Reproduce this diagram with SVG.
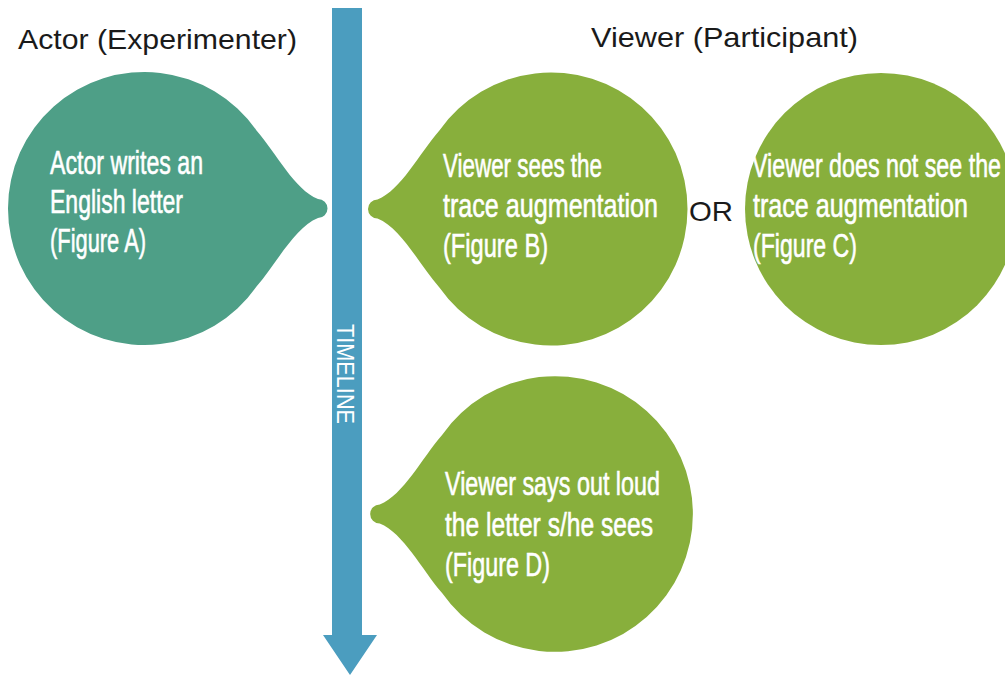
<svg xmlns="http://www.w3.org/2000/svg" xmlns:xlink="http://www.w3.org/1999/xlink" width="1005" height="677" viewBox="0 0 1005 677">
<style>
.hdr{font-family:"Liberation Sans",Arial,sans-serif;font-size:28px;fill:#1a1a1a}
.lbl{font-family:"Liberation Sans",Arial,sans-serif;font-size:33px;fill:#ffffff;stroke:#ffffff;stroke-width:0.6px}
.tl{font-family:"Liberation Sans",Arial,sans-serif;font-size:24px;fill:#ffffff}
.teal{fill:#4E9F87}
.green{fill:#88AF3C}
</style>
<defs>
<path id="bubble" d="M111.8,-78.3 C132,-55 150,-19 173.5,-9.5 A9.5,9.5 0 0 1 173.5,9.5 C150,19 132,55 111.8,78.3 A136.5,136.5 0 1 1 111.8,-78.3 Z"/>
</defs>
<rect width="1005" height="677" fill="#ffffff"/>
<g id="connectors">
<polygon id="timeline" points="332,8 362,8 362,635 377,635 350,675 323,635 332,635" fill="#4B9DBF"/>
<text class="tl" transform="translate(337,324) rotate(90)" textLength="100" lengthAdjust="spacingAndGlyphs">TIMELINE</text>
</g>
<g id="header-actor"><text class="hdr" x="18" y="49" textLength="279" lengthAdjust="spacingAndGlyphs">Actor (Experimenter)</text></g>
<g id="header-viewer"><text class="hdr" x="591" y="47" textLength="267" lengthAdjust="spacingAndGlyphs">Viewer (Participant)</text></g>
<g id="nodeA">
<use xlink:href="#bubble" href="#bubble" class="teal" transform="translate(144.5,208.5)"/>
<text class="lbl" x="50" y="174" textLength="153" lengthAdjust="spacingAndGlyphs">Actor writes an</text>
<text class="lbl" x="50" y="213" textLength="133" lengthAdjust="spacingAndGlyphs">English letter</text>
<text class="lbl" x="50" y="252" textLength="96" lengthAdjust="spacingAndGlyphs">(Figure A)</text>
</g>
<g id="nodeB">
<use xlink:href="#bubble" href="#bubble" class="green" transform="translate(551,209) scale(-1,1)"/>
<text class="lbl" x="443" y="177" textLength="159" lengthAdjust="spacingAndGlyphs">Viewer sees the</text>
<text class="lbl" x="443" y="217" textLength="215" lengthAdjust="spacingAndGlyphs">trace augmentation</text>
<text class="lbl" x="443" y="257" textLength="105" lengthAdjust="spacingAndGlyphs">(Figure B)</text>
</g>
<g id="or"><text class="hdr" x="689" y="221" textLength="44" lengthAdjust="spacingAndGlyphs">OR</text></g>
<g id="nodeC">
<circle class="green" cx="881" cy="209" r="136"/>
<text class="lbl" x="752" y="177" textLength="249" lengthAdjust="spacingAndGlyphs">Viewer does not see the</text>
<text class="lbl" x="753" y="217" textLength="215" lengthAdjust="spacingAndGlyphs">trace augmentation</text>
<text class="lbl" x="753" y="257" textLength="104" lengthAdjust="spacingAndGlyphs">(Figure C)</text>
</g>
<g id="nodeD">
<use xlink:href="#bubble" href="#bubble" class="green" transform="translate(555,514) scale(-1.01,1.01)"/>
<text class="lbl" x="445" y="495" textLength="215" lengthAdjust="spacingAndGlyphs">Viewer says out loud</text>
<text class="lbl" x="445" y="536" textLength="208" lengthAdjust="spacingAndGlyphs">the letter s/he sees</text>
<text class="lbl" x="445" y="576" textLength="105" lengthAdjust="spacingAndGlyphs">(Figure D)</text>
</g>
</svg>
